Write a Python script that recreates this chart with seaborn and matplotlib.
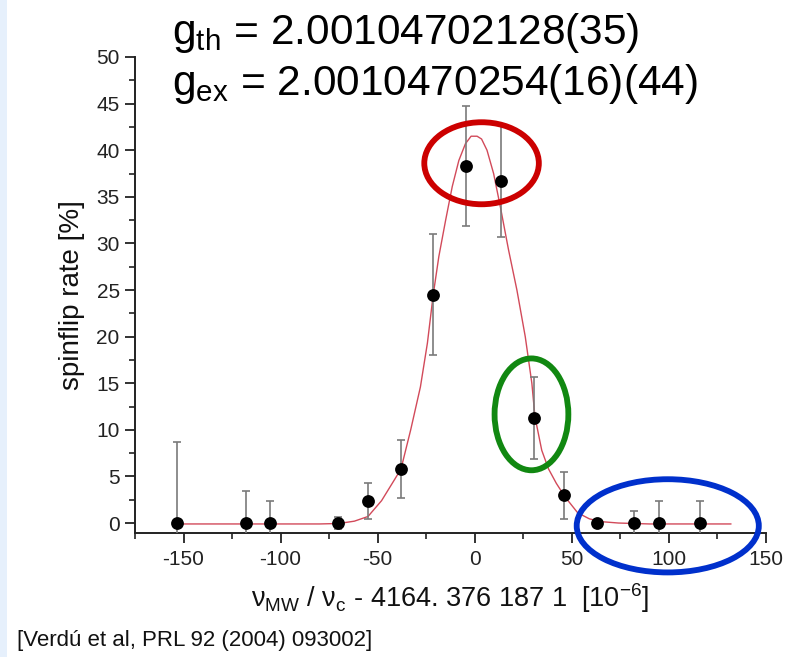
import numpy as np
import pandas as pd
import seaborn as sns
import matplotlib
matplotlib.use("Agg")
import matplotlib.pyplot as plt
from matplotlib.patches import Ellipse, Rectangle
from matplotlib.ticker import MultipleLocator

# ---- data ----
point_x = [-153.3, -118.0, -105.3, -70.6, -55.2, -38.1, -21.4, -4.5, 13.3, 30.3, 46.2, 63.1, 81.9, 94.7, 116.1]
point_y = [0.0, 0.0, 0.0, 0.0, 2.36, 5.76, 24.5, 38.3, 36.7, 11.3, 2.97, 0.0, 0.0, 0.0, 0.0]
point_err = [8.7, 3.4, 2.4, 0.6, 1.95, 3.1, 6.5, 6.4, 6.0, 4.4, 2.55, 0.35, 1.3, 2.4, 2.4]

curve_x = [-155, -110, -80, -70, -62, -55, -48, -41.5, -38, -33, -28, -24.4, -21.4, -18.5, -15,
           -11.6, -8.2, -4.8, -1.9, 1.2, 3.5, 6.3, 9.7, 13.2, 17.4, 21.7, 26, 29.4, 31, 34.5,
           38, 42, 46.5, 53, 59, 65, 74, 90, 110, 132]
curve_y = [-0.1, -0.1, -0.1, -0.05, 0.2, 0.7, 2.4, 4.6, 5.8, 10.0, 14.6, 19.3, 24.5, 28.6, 32.5,
           36.1, 38.9, 40.7, 41.5, 41.5, 41.2, 40.0, 37.5, 33.9, 29.3, 25.0, 20.0, 15.0, 11.4, 7.8,
           5.8, 4.26, 2.8, 1.1, 0.45, 0.15, 0.0, -0.1, -0.1, -0.1]

x_ticks = [-150, -100, -50, 0, 50, 100, 150]
y_ticks = [0, 5, 10, 15, 20, 25, 30, 35, 40, 45, 50]

title_lines = [r"g$_{\mathrm{th}}$ = 2.00104702128(35)",
               r"g$_{\mathrm{ex}}$ = 2.0010470254(16)(44)"]
x_label = r"ν$_{\mathrm{MW}}$ / ν$_{\mathrm{c}}$ - 4164. 376 187 1  [10$^{\mathrm{-6}}$]"
y_label = "spinflip rate [%]"
ref_text = "[Verdú et al, PRL 92 (2004) 093002]"

# ---- style ----
sns.set_style("ticks")
plt.rcParams["font.family"] = ["Liberation Sans", "DejaVu Sans"]
plt.rcParams["mathtext.fontset"] = "custom"
plt.rcParams["mathtext.rm"] = "Liberation Sans"
plt.rcParams["mathtext.it"] = "Liberation Sans"
plt.rcParams["axes.unicode_minus"] = False

W, H = 787, 657
fig = plt.figure(figsize=(W / 100, H / 100), dpi=100)
fig.patch.set_facecolor("white")
fig.patches.append(Rectangle((0, 0), 7 / W, 1, transform=fig.transFigure,
                             facecolor="#e6f0fc", edgecolor="none", zorder=0))

ax = fig.add_axes([135 / W, 1 - 533 / H, (766 - 135) / W, (533 - 57) / H])
ax.set_facecolor("white")

df_curve = pd.DataFrame({"x": curve_x, "y": curve_y})
df_pts = pd.DataFrame({"x": point_x, "y": point_y, "err": point_err})

sns.lineplot(data=df_curve, x="x", y="y", ax=ax, color="#d24a5a", linewidth=1.0,
             sort=False, estimator=None, zorder=2)
ax.errorbar(df_pts["x"], df_pts["y"], yerr=df_pts["err"], fmt="none",
            ecolor="#7a7a7a", elinewidth=1.2, capsize=3.2, capthick=1.2, zorder=3)
sns.scatterplot(data=df_pts, x="x", y="y", ax=ax, color="black", s=85,
                edgecolor="black", linewidth=0, zorder=4)

ax.set_xlim(-175, 150)
ax.set_ylim(-1.07, 50)
ax.set_xticks(x_ticks)
ax.set_yticks(y_ticks)
ax.xaxis.set_minor_locator(MultipleLocator(25))
ax.yaxis.set_minor_locator(MultipleLocator(2.5))
for s in ["top", "right"]:
    ax.spines[s].set_visible(False)
for s in ["left", "bottom"]:
    ax.spines[s].set_linewidth(1.4)
    ax.spines[s].set_color("#222222")
ax.tick_params(which="major", direction="out", length=7, width=1.3, colors="#222222",
               labelsize=15, labelcolor="#222222")
ax.tick_params(which="minor", direction="out", length=4, width=1.2, colors="#222222")
ax.tick_params(axis="x", which="major", pad=5)
ax.tick_params(axis="y", which="major", pad=4)
ax.set_xlabel(x_label, fontsize=19.5, labelpad=9, color="#111111")
ax.set_ylabel(y_label, fontsize=20, labelpad=8, color="#111111")

# highlight ellipses
ax.add_patch(Ellipse((3.5, 38.6), 59, 8.8, fill=False, edgecolor="#cc0000",
                     linewidth=4.2, clip_on=False, zorder=6))
ax.add_patch(Ellipse((29.2, 11.66), 38, 12.0, fill=False, edgecolor="#118811",
                     linewidth=4.2, clip_on=False, zorder=6))
ax.add_patch(Ellipse((99.4, -0.3), 93.8, 10.0, fill=False, edgecolor="#0030cc",
                     linewidth=4.2, clip_on=False, zorder=6))

fig.text(172 / W, 1 - 44 / H, title_lines[0], fontsize=30.5, va="baseline", ha="left", color="black")
fig.text(172 / W, 1 - 95 / H, title_lines[1], fontsize=30.5, va="baseline", ha="left", color="black")
fig.text(17 / W, 1 - 646 / H, ref_text, fontsize=16, va="baseline", ha="left", color="#111111")

fig.savefig("out.png", dpi=100)
